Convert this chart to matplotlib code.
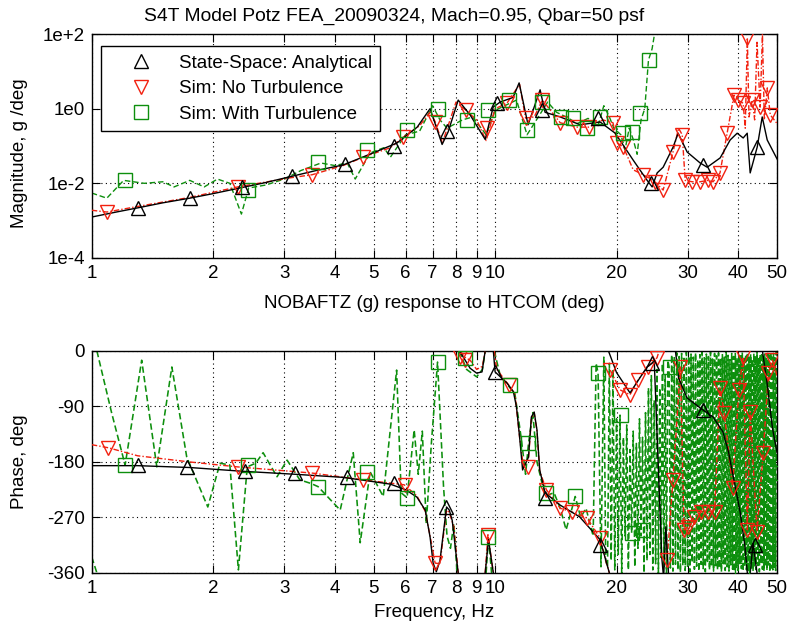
import numpy as np
import matplotlib
matplotlib.use("Agg")
import matplotlib.pyplot as plt
from matplotlib.ticker import NullLocator

nan = np.nan

# ---------------- text / ticks ----------------
title_text = "S4T Model Potz FEA_20090324, Mach=0.95, Qbar=50 psf"
series_names = ["State-Space: Analytical", "Sim: No Turbulence", "Sim: With Turbulence"]
top_xlabel = "NOBAFTZ (g) response to HTCOM (deg)"
bottom_xlabel = "Frequency, Hz"
mag_ylabel = "Magnitude, g /deg"
phase_ylabel = "Phase, deg"
xticks = [1, 2, 3, 4, 5, 6, 7, 8, 9, 10, 20, 30, 40, 50]
xtick_labels = ["1", "2", "3", "4", "5", "6", "7", "8", "9", "10", "20", "30", "40", "50"]
mag_ticks = [1e-4, 1e-2, 1e0, 1e2]
mag_tick_labels = ["1e-4", "1e-2", "1e0", "1e+2"]
phase_ticks = [-360, -270, -180, -90, 0]
phase_tick_labels = ["-360", "-270", "-180", "-90", "0"]

# ---------------- magnitude: state-space (analytical) ----------------
ss_mag_f = [1.0, 1.15, 1.30, 1.5, 1.75, 2.0, 2.33, 2.7, 3.10, 3.6, 4.20, 4.98, 5.71, 6.41, 6.90,
            7.39, 7.65, 8.10, 8.67, 9.45, 9.89, 10.29, 11.08, 11.47, 12.07, 12.93, 13.30, 14.50,
            16.25, 18.21, 19.85, 21.99, 23.82, 24.51, 25.22, 26.10, 27.63, 28.43, 29.93, 32.24,
            33.56, 36.14, 38.26, 39.82, 41.21, 42.17, 42.89, 44.65, 45.94, 47.27, 50.0]
ss_mag = [1.25e-3, 1.7e-3, 2.2e-3, 3.0e-3, 4.0e-3, 5.3e-3, 7.5e-3, 1.05e-2, 1.5e-2, 2.2e-2,
          3.1e-2, 6.5e-2, 0.12, 0.32, 1.0, 0.11, 0.24, 1.7, 0.68, 0.15, 1.1, 1.5, 2.0, 4.9, 0.37,
          3.2, 0.8, 0.6, 0.37, 0.44, 0.22, 0.042, 0.012, 0.008, 0.019, 0.027, 0.094, 0.22, 0.069,
          0.035, 0.027, 0.048, 0.145, 0.22, 0.164, 0.22, 0.019, 0.094, 0.60, 0.145, 0.045]
ss_mag_mark_f = [1.30, 1.75, 2.36, 3.14, 4.25, 5.6, 7.6, 10.1, 13.1, 18.0, 24.4, 32.8, 44.6]
ss_mag_mark = [2.2e-3, 4.0e-3, 7.9e-3, 1.6e-2, 3.3e-2, 0.1, 0.25, 1.4, 0.92, 0.56, 0.010, 0.031, 0.094]

# ---------------- magnitude: sim, no turbulence ----------------
nt_mag_f = [1.0, 1.09, 1.3, 1.75, 2.3, 3.1, 3.52, 4.2, 4.71, 5.5, 5.91, 6.5, 6.9, 7.1, 7.4, 8.0,
            8.45, 9.0, 9.5, 10.0, 10.7, 11.5, 11.9, 12.5, 13.1, 14.5, 16.0, 17.1, 18.5, 19.6, 20.1,
            20.8, 22.0, 23.3, 24.9, 26.1, 27.6, 28.5, 29.1, 29.6, 30.8, 32.2, 33.7, 34.7, 36.1,
            37.6, 39.1, 40.0, 41.2, 41.7, 42.2, 42.6, 43.4, 44.0, 44.6, 45.4, 46.0, 46.5, 47.3,
            48.1, 50.0]
nt_mag = [1.9e-3, 1.7e-3, 2.4e-3, 4.2e-3, 8e-3, 1.4e-2, 1.7e-2, 3e-2, 0.05, 0.09, 0.17, 0.35,
          0.8, 0.45, 0.12, 1.5, 0.92, 0.5, 0.14, 1.0, 1.4, 4.5, 0.56, 0.6, 1.7, 0.42, 0.32, 0.32,
          0.5, 0.42, 0.12, 0.094, 0.023, 0.017, 0.011, 0.0066, 0.068, 0.3, 0.2, 0.012, 0.011,
          0.011, 0.012, 0.011, 0.019, 0.22, 2.3, 1.7, 1.4, 0.3, 80, 0.6, 1.7, 0.5, 60, 1.1, 100,
          0.5, 3.6, 0.68, 0.4]
nt_mag_mark_f = [1.09, 2.3, 3.52, 4.71, 5.91, 7.1, 8.45, 9.56, 10.7, 11.9, 13.1, 14.5, 16.0, 17.1,
                 19.6, 20.1, 20.8, 23.3, 24.9, 26.1, 27.6, 29.1, 29.6, 30.8, 32.2, 33.7, 34.7,
                 36.1, 37.6, 39.1, 40.0, 41.2, 42.2, 43.4, 45.4, 47.3, 48.1]
nt_mag_mark = [1.7e-3, 7.9e-3, 1.7e-2, 0.05, 0.17, 0.44, 0.92, 0.3, 1.4, 0.56, 1.7, 0.42, 0.32,
               0.32, 0.42, 0.12, 0.094, 0.017, 0.011, 0.0066, 0.068, 0.2, 0.012, 0.011, 0.011,
               0.012, 0.011, 0.019, 0.22, 2.3, 1.7, 1.4, 78, 1.7, 1.1, 3.6, 0.68]

# ---------------- magnitude: sim, with turbulence ----------------
wt_mag_f = [1.0, 1.09, 1.2, 1.35, 1.5, 1.6, 1.75, 1.9, 2.05, 2.2, 2.35, 2.45, 2.7, 3.0, 3.3, 3.7,
            4.0, 4.3, 4.5, 4.9, 5.3, 5.5, 6.0, 6.5, 7.0, 7.3, 7.6, 8.3, 8.8, 9.5, 10.0, 11.3, 12.0,
            12.5, 13.5, 14.2, 15.0, 16.0, 17.0, 18.0, 18.6, 19.2, 19.7, 20.5, 21.0, 21.5, 22.0,
            22.5, 23.0, 23.5, 24.0, 24.5, 25.0]
wt_mag = [5.5e-3, 4e-3, 1.2e-2, 1.0e-2, 1.1e-2, 8e-3, 1.2e-2, 8e-3, 1.3e-2, 1.0e-2, 1.5e-3,
          7.5e-3, 9e-3, 1.3e-2, 2.2e-2, 3.5e-2, 3.0e-2, 3.5e-2, 1.3e-2, 6.5e-2, 0.09, 0.05, 0.2,
          0.25, 1.2, 0.5, 0.3, 0.5, 0.6, 0.2, 0.9, 1.7, 0.2, 0.4, 1.5, 0.8, 0.6, 0.4, 0.55, 0.35,
          1.2, 0.6, 0.3, 0.2, 0.08, 0.3, 0.15, 0.06, 0.5, 1.0, 20, 40, 150]
wt_mag_mark_f = [1.21, 2.44, 3.64, 4.82, 6.05, 7.2, 8.5, 9.6, 10.8, 12.0, 13.1, 14.6, 15.6, 16.9,
                 18.2, 20.7, 21.8, 22.9, 24.1]
wt_mag_mark = [1.23e-2, 6.6e-3, 3.7e-2, 7.8e-2, 0.27, 1.0, 0.5, 0.92, 1.7, 0.27, 1.5, 0.6, 0.56,
               0.3, 0.6, 0.22, 0.24, 0.77, 20]

# ---------------- phase: state-space (analytical) ----------------
ss_ph_f = [1.0, 1.3, 1.75, 2.35, 3.2, 4.2, 5.0, 5.5, 6.0, 6.4,
           6.71, 6.9, 7.02, 7.15, 7.3, 7.58, 7.7, 7.83, 8.1, nan,
           8.16, 8.67, 9.0, 9.28, 9.45, nan, 9.45, 9.63, 9.9, nan,
           9.9, 10.0, 10.7, 11.1, 11.3, 11.5, 11.7, 12.1, 12.3, 12.5,
           12.7, 12.9, 13.3, 14.5, 16.2, 18.2, 18.9, 19.2, nan, 19.1,
           20.0, 21.6, 23.8, 24.5, 24.8, 25.9, 26.1, nan, 26.2, 26.5,
           26.9, nan, 28.0, 28.5, 29.9, 32.2, 32.8, 34.7, 36.7, 37.9,
           39.0, 40.5, 41.6, 42.2, nan, 42.9, 43.6, 44.6, nan, 46.0,
           47.3, 48.7, 50.0]
ss_ph = [-186, -186, -189, -195, -200, -205, -212, -216, -225, -237,
         -258, -302, -344, -358, -340, -253, -258, -275, -360, nan,
         0, -28, -36, -34, 0, nan, -360, -306, -360, nan,
         0, -34, -52, -66, -91, -139, -193, -172, -107, -99,
         -128, -193, -230, -250, -269, -306, -344, -360, nan, 0,
         -35, -68, -26, -20, -15, -336, -360, nan, -360, -285,
         -360, nan, 0, -44, -76, -92, -96, -107, -131, -164,
         -206, -261, -315, -360, nan, -360, -312, -360, nan, 0,
         -55, -125, -165]
ss_ph_mark_f = [1.30, 1.72, 2.4, 3.2, 4.3, 5.6, 7.55, 10.0, 13.3, 18.2, 24.5, 32.8, 44.0]
ss_ph_mark = [-185, -188, -195, -198, -204, -214, -253, -34, -238, -315, -20, -96, -315]

# ---------------- phase: sim, no turbulence ----------------
nt_ph_f = [1.0, 1.1, 1.3, 1.75, 2.3, 3.52, 4.71, 5.95, 6.4, 6.71,
           6.9, 7.1, 7.3, 7.58, 7.7, 7.9, 8.1, nan, 8.2, 8.4,
           8.67, 9.0, 9.3, 9.45, nan, 9.45, 9.6, 9.9, nan, 9.95,
           10.1, 10.8, 11.2, 11.5, 11.75, 12.1, 12.3, 12.5, 12.7, 12.9,
           13.4, 14.5, 15.5, 16.9, 18.2, 18.9, 19.2, nan, 19.3, 20.4,
           21.6, 22.6, 23.9, 25.2, 25.5, nan, 26.7, 27.6, 28.8, 29.4,
           30.1, 31.2, 32.4, 33.7, 35.0, 36.1, 37.0, 38.8, 40.2, 41.2,
           42.2, 42.9, 44.6, 46.2, 47.6, 48.7, 50.0]
nt_ph = [-152, -157, -170, -180, -188, -198, -209, -217, -235, -260,
         -300, -344, -345, -258, -262, -285, -360, nan, 0, -10,
         -15, -30, -25, 0, nan, -360, -298, -360, nan, 0,
         -30, -55, -70, -140, -188, -175, -110, -100, -130, -195,
         -225, -255, -261, -271, -303, -345, -360, nan, -31, -63,
         -71, -47, -26, -11, 0, nan, -339, -209, -26, -290,
         -285, -269, -261, -261, -261, -60, -101, -222, -63, -10,
         -290, -99, -293, -165, -36, -15, -40]
nt_ph_mark_f = [1.1, 2.3, 3.52, 4.71, 5.98, 7.1, 8.2, 8.4, 9.6, 10.8, 12.1, 13.4, 14.5, 15.5,
                16.9, 18.2, 19.3, 20.4, 21.6, 22.6, 23.9, 25.2, 26.7, 27.6, 28.8, 29.4, 30.1,
                31.2, 32.4, 33.7, 35.0, 36.1, 37.0, 38.8, 40.2, 41.2, 42.2, 42.9, 44.6, 46.2,
                47.6, 48.7]
nt_ph_mark = [-157, -188, -198, -209, -217, -344, -10, -15, -298, -55, -188, -225, -255, -261,
              -271, -303, -31, -63, -71, -47, -26, -11, -339, -209, -26, -290, -285, -269,
              -261, -261, -261, -60, -101, -222, -63, -10, -290, -99, -293, -165, -36, -15]

# ---------------- phase: sim, with turbulence ----------------
wt_ph_f = [1.0, 1.03, nan, 1.03, 1.12, 1.21, 1.33, 1.45, 1.58, 1.72, 1.94, 2.08, 2.2, 2.31,
           2.43, 2.55, 2.66, 2.88, 3.05, 3.28, 3.5, 3.64, 4.13, 4.45, 4.63, 4.9, 5.28, 5.7,
           5.85, 6.05, 6.3, 6.45, 6.6, 6.75, 6.95, 7.2, 7.45, 7.6, 7.75, 7.9, 8.05, nan, 8.15,
           8.5, 9.0, 9.3, 9.45, nan, 9.5, 9.63, 9.8, nan, 9.95, 10.3, 11.2, 11.6, 11.9, 12.1,
           12.4, 12.7, 13.3, 14.0, 14.5, 15.0, 15.8, 16.3, 16.8, 17.5, 17.8, 18.0, 18.3, 18.6,
           18.8,
           19.0, 19.2, 19.4, 19.6, 19.8, 20.0, 20.2, 20.4, 20.6, 20.8,
           21.0, 21.2, 21.4, 21.6, 21.8, 22.0, 22.2, 22.4, 22.6, 22.8,
           23.0, 23.2, 23.4, 23.6, 23.8, 24.0, 24.2, 24.4, 24.6, 24.8,
           25.0, 25.2, 25.4, 25.6, 25.8, 26.0, 26.2, 26.4, 26.6, 26.8,
           27.0, 27.2, 27.4, 27.6, 27.8, 28.0, 28.2, 28.4, 28.6, 28.8,
           29.0, 29.2, 29.4, 29.6, 29.8, 30.0, 30.2, 30.4, 30.6, 30.8,
           31.0, 31.2, 31.4, 31.6, 31.8, 32.0, 32.2, 32.4, 32.6, 32.8,
           33.0, 33.2, 33.4, 33.6, 33.8, 34.0, 34.2, 34.4, 34.6, 34.8,
           35.0, 35.2, 35.4, 35.6, 35.8, 36.0, 36.2, 36.4, 36.6, 36.8,
           37.0, 37.2, 37.4, 37.6, 37.8, 38.0, 38.2, 38.4, 38.6, 38.8,
           39.0, 39.2, 39.4, 39.6, 39.8, 40.0, 40.2, 40.4, 40.6, 40.8,
           41.0, 41.2, 41.4, 41.6, 41.8, 42.0, 42.2, 42.4, 42.6, 42.8,
           43.0, 43.2, 43.4, 43.6, 43.8, 44.0, 44.2, 44.4, 44.6, 44.8,
           45.0, 45.2, 45.4, 45.6, 45.8, 46.0, 46.2, 46.4, 46.6, 46.8,
           47.0, 47.2, 47.4, 47.6, 47.8, 48.0, 48.2, 48.4, 48.6, 48.8,
           49.0, 49.2, 49.4, 49.6, 49.8, 50.0]
wt_ph = [-334, -360, nan, 0, -100, -185, -15, -188, -26, -172, -253, -182, -185, -355,
         -188, -182, -165, -204, -177, -209, -215, -220, -258, -165, -311, -196, -236, -31,
         -230, -238, -128, -200, -130, -280, -150, -18, -220, -300, -320, -280, -360, nan, 0,
         -30, -42, -30, 0, nan, -360, -301, -360, nan, 0, -40, -70, -140, -200, -150,
         -100, -180, -235, -230, -255, -290, -236, -270, -255, -300, -20, -36, -350, -10,
         -340,
         -350, -20, -340, -30, -355, -110, -330, -104, -360, -140,
         -300, -120, -355, -160, -295, -130, -350, -150, -320, -110,
         -300, -140, -360, -100, -340, -60, -330, -40, -355, -80,
         -345, -30, -360, -60, -335, -20, -350, -40, -360, -15,
         -26, -352, -6, -357, -11, -346, -3, -355, -9, -359,
         -4, -348, -12, -356, -2, -351, -8, -358, -5, -343,
         -10, -354, -3, -349, -14, -357, -6, -346, -2, -353,
         -11, -358, -5, -344, -9, -355, -2, -350, -13, -357,
         -4, -348, -8, -355, -3, -352, -12, -358, -6, -345,
         -10, -356, -2, -350, -7, -357, -14, -347, -4, -354,
         -9, -358, -3, -351, -11, -356, -5, -344, -8, -353,
         -2, -357, -12, -349, -6, -355, -3, -358, -10, -346,
         -5, -352, -13, -357, -4, -350, -8, -355, -2, -348,
         -11, -358, -6, -345, -3, -354, -9, -357, -5, -350,
         -12, -356, -4, -347, -7, -358, -2, -352, -10, -355,
         -4, -351, -11, -356, -2, -180]
wt_ph_mark_f = [1.21, 2.44, 3.64, 4.82, 6.05, 7.2, 8.4, 9.63, 10.9, 12.1, 13.4, 15.8, 18.0,
                20.5, 21.9, 23.2, 27.1, 40.9, 48.6]
wt_ph_mark = [-185, -185, -220, -196, -238, -18, -12, -301, -55, -150, -230, -236, -36,
              -104, -295, -290, -26, -355, -198]

# ---------------- styling ----------------
plt.rcParams['font.family'] = ['Liberation Sans', 'DejaVu Sans']
FS = 13.5
C_BLACK = "black"
C_RED = "#f2200f"
C_GREEN = "#0d8f0d"
LS_RED = (0, (4, 1.5, 1, 1.5))
LS_GREEN = (0, (4, 2))
MS = 10
MEW = 1.0

fig = plt.figure(figsize=(7.88, 6.32), dpi=100)
ax1 = fig.add_axes([0.1164, 0.5918, 0.8697, 0.3544])
ax2 = fig.add_axes([0.1164, 0.0934, 0.8697, 0.3513])

# magnitude
ax1.plot(wt_mag_f, wt_mag, color=C_GREEN, ls=LS_GREEN, lw=1.0, zorder=2)
ax1.plot(nt_mag_f, nt_mag, color=C_RED, ls=LS_RED, lw=1.0, zorder=3)
ax1.plot(ss_mag_f, ss_mag, color=C_BLACK, ls='-', lw=1.0, zorder=4)
h1, = ax1.plot(ss_mag_mark_f, ss_mag_mark, ls='none', marker='^', ms=MS, mfc='none',
               mec=C_BLACK, mew=MEW, zorder=6, label=series_names[0])
h2, = ax1.plot(nt_mag_mark_f, nt_mag_mark, ls='none', marker='v', ms=MS, mfc='none',
               mec=C_RED, mew=MEW, zorder=5, label=series_names[1])
h3, = ax1.plot(wt_mag_mark_f, wt_mag_mark, ls='none', marker='s', ms=MS, mfc='none',
               mec=C_GREEN, mew=MEW, zorder=5, label=series_names[2])

# phase
ax2.plot(wt_ph_f, wt_ph, color=C_GREEN, ls=LS_GREEN, lw=1.15, zorder=2)
ax2.plot(nt_ph_f, nt_ph, color=C_RED, ls=LS_RED, lw=1.0, zorder=3)
ax2.plot(ss_ph_f, ss_ph, color=C_BLACK, ls='-', lw=1.0, zorder=4)
ax2.plot(ss_ph_mark_f, ss_ph_mark, ls='none', marker='^', ms=MS, mfc='none',
         mec=C_BLACK, mew=MEW, zorder=6)
ax2.plot(nt_ph_mark_f, nt_ph_mark, ls='none', marker='v', ms=MS, mfc='none',
         mec=C_RED, mew=MEW, zorder=5)
ax2.plot(wt_ph_mark_f, wt_ph_mark, ls='none', marker='s', ms=MS, mfc='none',
         mec=C_GREEN, mew=MEW, zorder=5)

for ax in (ax1, ax2):
    ax.set_xscale('log')
    ax.set_xlim(1, 50)
    ax.set_xticks(xticks, labels=xtick_labels)
    ax.xaxis.set_minor_locator(NullLocator())
    ax.tick_params(which='both', direction='in', top=True, right=True, length=6,
                   width=0.8, labelsize=FS, pad=5, colors='black')
    ax.grid(True, which='major', ls=(0, (1, 3)), color='black', lw=0.8)
    for sp in ax.spines.values():
        sp.set_linewidth(1.0)
        sp.set_color('black')

ax1.set_yscale('log')
ax1.set_ylim(1e-4, 1e2)
ax1.set_yticks(mag_ticks, labels=mag_tick_labels)
ax1.yaxis.set_minor_locator(NullLocator())
ax2.set_ylim(-360, 0)
ax2.set_yticks(phase_ticks, labels=phase_tick_labels)

ax1.set_ylabel(mag_ylabel, fontsize=FS)
ax2.set_ylabel(phase_ylabel, fontsize=FS)
ax1.yaxis.set_label_coords(-0.093, 0.47)
ax2.yaxis.set_label_coords(-0.093, 0.5)
ax1.set_xlabel(top_xlabel, fontsize=FS)
ax2.set_xlabel(bottom_xlabel, fontsize=FS)
ax1.xaxis.set_label_coords(0.5, -0.165)
ax2.xaxis.set_label_coords(0.5, -0.14)

fig.text(0.5, 1 - 16 / 632, title_text, ha='center', va='center', fontsize=13.9)

leg = ax1.legend(handles=[h1, h2, h3], loc='upper left', bbox_to_anchor=(0.0136, 0.946),
                 borderaxespad=0, fontsize=FS, fancybox=False, framealpha=1,
                 edgecolor='black', handlelength=3.4, handletextpad=0.3, borderpad=0.45,
                 labelspacing=0.45)
leg.get_frame().set_linewidth(1.0)
leg.set_zorder(10)

fig.savefig("out.png", dpi=100)
